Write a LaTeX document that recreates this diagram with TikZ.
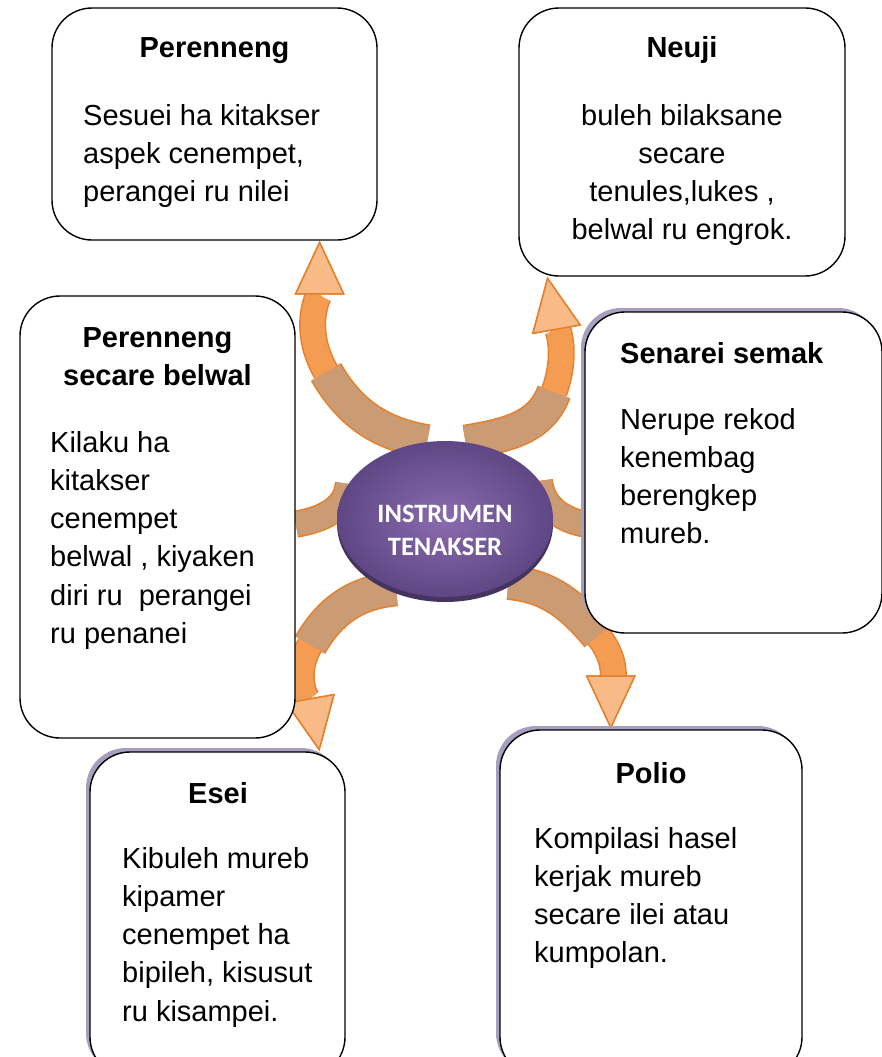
\documentclass[tikz,border=0pt]{standalone}
\usepackage{fontspec}
\setmainfont{Liberation Sans}
\newfontfamily\calibri{Carlito}
\usetikzlibrary{positioning,shapes.geometric,arrows.meta,shadows,backgrounds}
\definecolor{boxshade}{HTML}{A79DBE}
\definecolor{arrtan}{HTML}{CB9B73}
\definecolor{arrorange}{HTML}{F49D52}
\definecolor{arrlight}{HTML}{F8BA86}
\definecolor{arredge}{HTML}{E5812D}
\definecolor{ellinner}{HTML}{8A6CAE}
\definecolor{ellouter}{HTML}{5E4784}
\definecolor{ellrim}{HTML}{45345F}
\newcommand{\leftlines}[1]{\parbox[t]{300pt}{\raggedright #1}}
\newcommand{\midlines}[1]{\parbox[t]{300pt}{\centering #1}}
\tikzset{
  card/.style={draw, line width=1.4pt, rounded corners=40pt, fill=white, inner sep=0pt},
  shadecard/.style={card, drop shadow={shadow xshift=-4pt, shadow yshift=4pt, fill=boxshade, opacity=1}},
  cardtitle/.style={font=\bfseries\fontsize{29}{38.3}\selectfont, inner sep=0pt, anchor=base},
  cardbody/.style={font=\fontsize{29}{38.3}\selectfont, inner sep=0pt, anchor=base west},
  hub/.style={ellipse, minimum width=216pt, minimum height=156pt, inner sep=0pt,
    inner color=ellinner, outer color=ellouter,
    drop shadow={shadow xshift=0pt, shadow yshift=-5pt, fill=ellrim, opacity=1}},
  hubtext/.style={font=\calibri\bfseries\fontsize{26.5}{33}\selectfont, text=white, inner sep=0pt, anchor=base},
  tail/.style={draw=arredge, line width=1.6pt, double=arrtan, double distance=#1},
  tail/.default=32pt,
  shaft/.style={draw=arrorange, line width=24pt,
    -{Triangle[length=54pt,width=50pt,color=arredge,fill=arrlight,line width=1.5pt]},
    preaction={draw=arredge, line width=27pt}},
}
\begin{document}
\begin{tikzpicture}[x=1pt, y=1pt]
  \useasboundingbox (0,0) rectangle (881,-1057);

  % centre
  \node[hub] (ins) at (445,-519) {};
  \node[hubtext] (insT) at (445,-522.5) {\midlines{INSTRUMEN\\TENAKSER}};

  % boxes
  \node[card, minimum width=325pt, minimum height=232pt] (per) at (214.5,-124) {};
  \node[card, minimum width=326pt, minimum height=268pt] (neu) at (682,-142) {};
  \node[card, minimum width=275pt, minimum height=442pt] (psb) at (157.5,-517) {};
  \node[shadecard, minimum width=297pt, minimum height=321pt] (sen) at (733.5,-472.5) {};
  \node[shadecard, minimum width=255pt, minimum height=325pt] (es) at (217.5,-914.5) {};
  \node[shadecard, minimum width=302pt, minimum height=347pt] (pol) at (651,-903.5) {};

  % texts
  \node[cardtitle] (perT) at (214.5,-57) {Perenneng};
  \node[cardbody] (perB) at (83,-125) {\leftlines{Sesuei ha kitakser\\aspek cenempet,\\perangei ru nilei}};
  \node[cardtitle] (neuT) at (682,-57) {Neuji};
  \node[cardbody, anchor=base] (neuB) at (682,-125) {\midlines{buleh bilaksane\\secare\\tenules,lukes ,\\belwal ru engrok.}};
  \node[cardtitle] (psbT) at (157.5,-347) {\midlines{Perenneng\\secare belwal}};
  \node[cardbody] (psbB) at (50,-452) {\leftlines{Kilaku ha\\kitakser\\cenempet\\belwal , kiyaken\\diri ru~ perangei\\ru penanei}};
  \node[cardtitle, anchor=base west] (senT) at (620,-363) {Senarei semak};
  \node[cardbody] (senB) at (620,-429) {\leftlines{Nerupe rekod\\kenembag\\berengkep\\mureb.}};
  \node[cardtitle] (esT) at (218,-803) {Esei};
  \node[cardbody] (esB) at (122,-868) {\leftlines{Kibuleh mureb\\kipamer\\cenempet ha\\bipileh, kisusut\\ru kisampei.}};
  \node[cardtitle] (polT) at (651,-783) {Polio};
  \node[cardbody] (polB) at (534,-848) {\leftlines{Kompilasi hasel\\kerjak mureb\\secare ilei atau\\kumpolan.}};

  % arrows
  \coordinate (m1) at (326,-372);
  \coordinate (m2) at (554,-392);
  \coordinate (m5) at (310,-645);
  \coordinate (m6) at (598,-636);
  \begin{scope}[on background layer]
    \draw[tail] (ins.103) to[out=170,in=-60] (m1);
    \draw[shaft] (m1) to[out=120,in=-90] (per.-48);
    \draw[tail] (ins.75) to[out=10,in=-110] (m2);
    \draw[shaft] (m2) to[out=70,in=-80] (neu.-135);
    \draw[tail=24pt] (ins.160) to[out=-95,in=10] (psb.-3);
    \draw[tail=24pt] (ins.22) to[out=-85,in=170] (sen.199);
    \draw[tail] (ins.-125) to[out=185,in=60] (m5);
    \draw[shaft] (m5) to[out=-120,in=100] (es.58);
    \draw[tail] (ins.-45) to[out=-5,in=130] (m6);
    \draw[shaft] (m6) to[out=-50,in=90] (pol.103);
  \end{scope}
\end{tikzpicture}
\end{document}
